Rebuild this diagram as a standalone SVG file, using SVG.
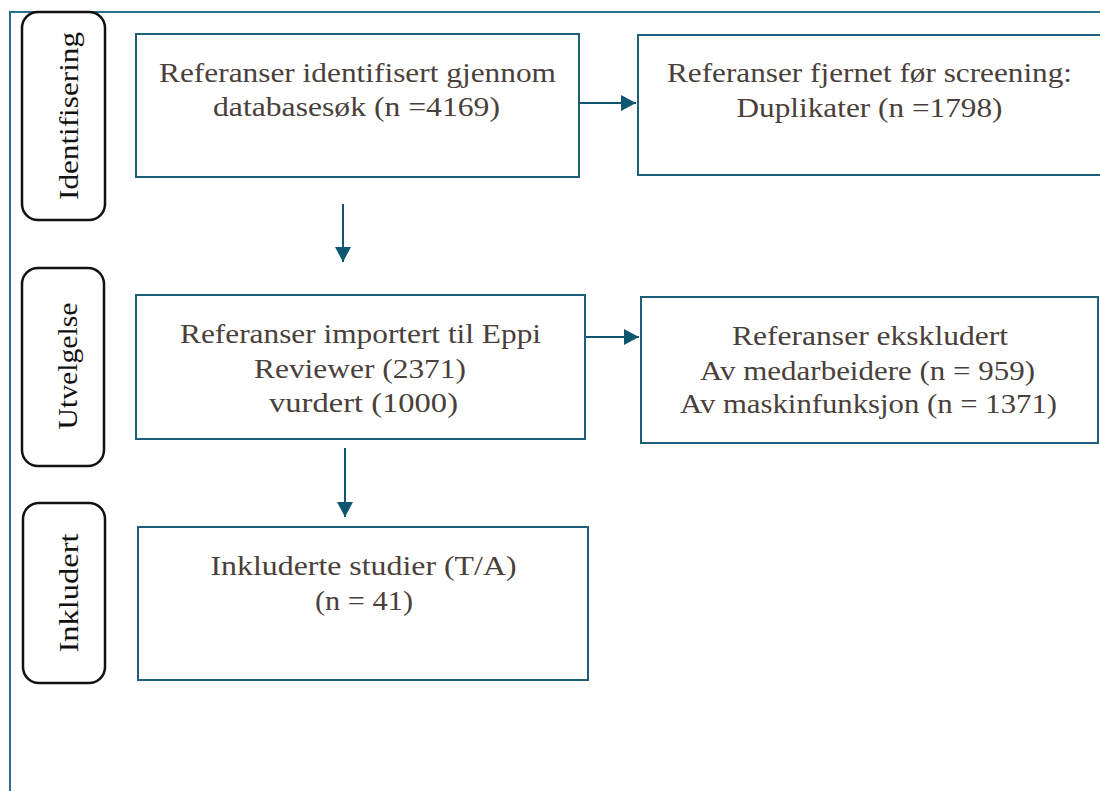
<svg xmlns="http://www.w3.org/2000/svg" width="1100" height="791" viewBox="0 0 1100 791">
<style>
.frame{fill:none;stroke:#2b6e88;stroke-width:2}
.pill{fill:#fff;stroke:#111;stroke-width:2.5}
.box{fill:#fff;stroke:#1d5f78;stroke-width:2}
.conn{fill:none;stroke:#0f5670;stroke-width:2}
.t{font-family:"Liberation Serif","DejaVu Serif",serif;font-size:28px;fill:#4a403b}
.lab{font-family:"Liberation Serif","DejaVu Serif",serif;font-size:27px;fill:#111}
</style>
<defs>
<marker id="ah" markerUnits="userSpaceOnUse" viewBox="0 0 15 16" refX="15" refY="8" markerWidth="15" markerHeight="16" orient="auto">
<path d="M0,0 L15,8 L0,16 z" fill="#0f5670"/>
</marker>
</defs>
<rect width="1100" height="791" fill="#fff"/>
<g id="frame">
<path class="frame" d="M10,791 L10,12 L1100,12"/>
</g>
<g id="phase-identifisering">
<rect class="pill" x="22" y="12" width="83" height="208" rx="16"/>
<text class="lab" transform="translate(78,116) rotate(-90)" text-anchor="middle" textLength="168" lengthAdjust="spacingAndGlyphs">Identifisering</text>
</g>
<g id="phase-utvelgelse">
<rect class="pill" x="22" y="268" width="82" height="198" rx="16"/>
<text class="lab" transform="translate(77,366) rotate(-90)" text-anchor="middle" textLength="127" lengthAdjust="spacingAndGlyphs">Utvelgelse</text>
</g>
<g id="phase-inkludert">
<rect class="pill" x="23" y="503" width="82" height="180" rx="16"/>
<text class="lab" transform="translate(78,593) rotate(-90)" text-anchor="middle" textLength="119" lengthAdjust="spacingAndGlyphs">Inkludert</text>
</g>
<g id="node-identified">
<rect class="box" x="136" y="34" width="443" height="143"/>
<text class="t" x="357.5" y="82" text-anchor="middle" textLength="397" lengthAdjust="spacingAndGlyphs">Referanser identifisert gjennom</text>
<text class="t" x="356.5" y="116" text-anchor="middle" textLength="287" lengthAdjust="spacingAndGlyphs">databasesøk (n =4169)</text>
</g>
<g id="node-removed">
<rect class="box" x="638" y="35" width="470" height="140"/>
<text class="t" x="869.5" y="82" text-anchor="middle" textLength="405" lengthAdjust="spacingAndGlyphs">Referanser fjernet før screening:</text>
<text class="t" x="869.5" y="117" text-anchor="middle" textLength="266" lengthAdjust="spacingAndGlyphs">Duplikater (n =1798)</text>
</g>
<g id="node-imported">
<rect class="box" x="136" y="295" width="449" height="144"/>
<text class="t" x="360.5" y="343" text-anchor="middle" textLength="361" lengthAdjust="spacingAndGlyphs">Referanser importert til Eppi</text>
<text class="t" x="360" y="378" text-anchor="middle" textLength="212" lengthAdjust="spacingAndGlyphs">Reviewer (2371)</text>
<text class="t" x="363.5" y="412" text-anchor="middle" textLength="189" lengthAdjust="spacingAndGlyphs">vurdert (1000)</text>
</g>
<g id="node-excluded">
<rect class="box" x="641" y="297" width="457" height="146"/>
<text class="t" x="870" y="345" text-anchor="middle" textLength="276" lengthAdjust="spacingAndGlyphs">Referanser ekskludert</text>
<text class="t" x="867.5" y="380" text-anchor="middle" textLength="335" lengthAdjust="spacingAndGlyphs">Av medarbeidere (n = 959)</text>
<text class="t" x="868.5" y="413" text-anchor="middle" textLength="377" lengthAdjust="spacingAndGlyphs">Av maskinfunksjon (n = 1371)</text>
</g>
<g id="node-included">
<rect class="box" x="138" y="527" width="450" height="153"/>
<text class="t" x="363.5" y="575" text-anchor="middle" textLength="306" lengthAdjust="spacingAndGlyphs">Inkluderte studier (T/A)</text>
<text class="t" x="364" y="610" text-anchor="middle" textLength="98" lengthAdjust="spacingAndGlyphs">(n = 41)</text>
</g>
<g id="connectors">
<path class="conn" d="M580,103 L636,103" marker-end="url(#ah)"/>
<path class="conn" d="M343,204 L343,262" marker-end="url(#ah)"/>
<path class="conn" d="M586,337 L639,337" marker-end="url(#ah)"/>
<path class="conn" d="M345,448 L345,517" marker-end="url(#ah)"/>
</g>
</svg>
